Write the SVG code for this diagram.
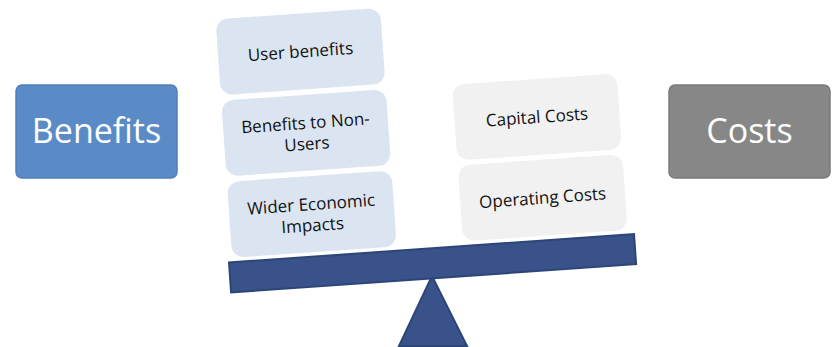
<svg xmlns="http://www.w3.org/2000/svg" width="834" height="347" viewBox="0 0 834 347">
  <style>
    text { font-family: "Open Sans", "Liberation Sans", sans-serif; text-anchor: middle; }
    .title { font-size: 34px; fill: #ffffff; }
    .item { font-size: 17px; fill: #111111; }
    .benefit { fill: #dbe5f1; }
    .cost { fill: #f1f1f1; }
    .scale { fill: #395289; stroke: #2d4678; stroke-width: 2; stroke-linejoin: miter; }
  </style>

  <!-- side labels -->
  <g id="benefits">
    <rect x="16" y="85" width="161" height="93" rx="6" fill="#5b8bc6" stroke="#5080bb" stroke-width="1.5"/>
    <text class="title" x="96.5" y="143">Benefits</text>
  </g>
  <g id="costs">
    <rect x="669" y="85" width="161" height="93" rx="6" fill="#878787" stroke="#7b7b7b" stroke-width="1.5"/>
    <text class="title" x="749.5" y="143">Costs</text>
  </g>

  <!-- seesaw: fulcrum and beam -->
  <g id="seesaw">
    <polygon class="scale" points="432,276 399,346 467,346"/>
    <rect class="scale" x="0" y="0" width="406" height="30" transform="translate(229,262.5) rotate(-4)"/>
  </g>

  <!-- benefit blocks resting on the left of the beam -->
  <g id="benefit-stack" transform="translate(215.5,19.4) rotate(-4)">
    <g id="user-benefits">
      <rect class="benefit" x="0" y="0" width="165" height="76" rx="12"/>
      <text class="item" x="82.5" y="44">User benefits</text>
    </g>
    <g id="non-user-benefits">
      <rect class="benefit" x="0" y="81.5" width="165" height="76" rx="12"/>
      <text class="item" x="82.5" y="115.5">Benefits to Non-</text>
      <text class="item" x="82.5" y="136.5">Users</text>
    </g>
    <g id="wider-economic-impacts">
      <rect class="benefit" x="0" y="163" width="165" height="76" rx="12"/>
      <text class="item" x="82.5" y="197">Wider Economic</text>
      <text class="item" x="82.5" y="218">Impacts</text>
    </g>
  </g>

  <!-- cost blocks resting on the right of the beam -->
  <g id="cost-stack" transform="translate(452,84.8) rotate(-4)">
    <g id="capital-costs">
      <rect class="cost" x="0" y="0" width="165" height="76" rx="12"/>
      <text class="item" x="82.5" y="44">Capital Costs</text>
    </g>
    <g id="operating-costs">
      <rect class="cost" x="0" y="81" width="165" height="76" rx="12"/>
      <text class="item" x="82.5" y="125">Operating Costs</text>
    </g>
  </g>
</svg>
